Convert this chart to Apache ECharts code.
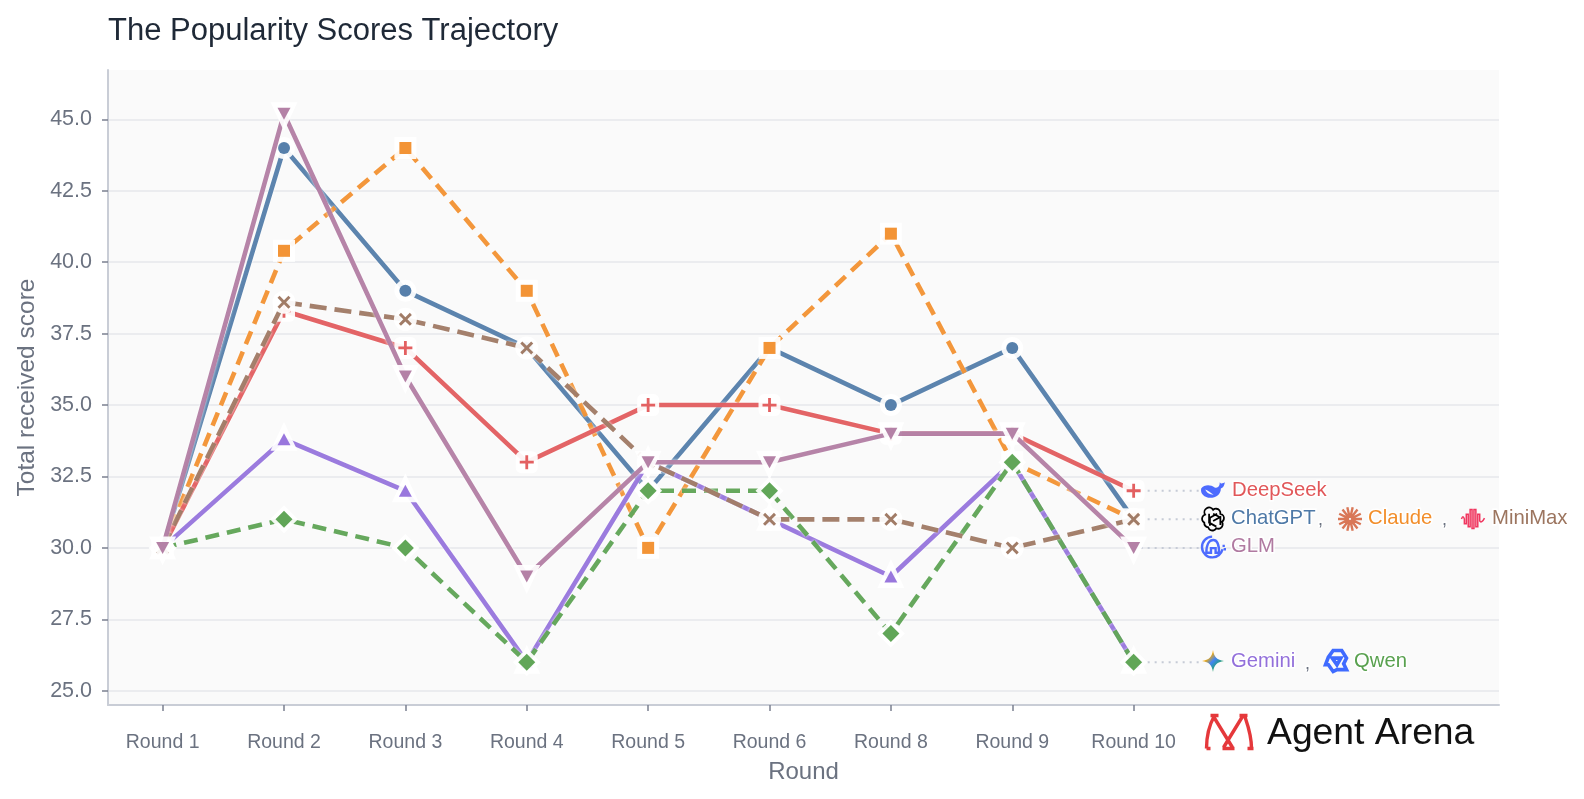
<!DOCTYPE html>
<html><head><meta charset="utf-8">
<style>html,body{margin:0;padding:0;background:#fff}#c{width:1584px;height:799px}</style>
<script src="https://cdn.jsdelivr.net/npm/echarts@6/dist/echarts.min.js"></script>
</head><body><div id="c"></div>
<script>
const rounds = ['Round 1','Round 2','Round 3','Round 4','Round 5','Round 6','Round 8','Round 9','Round 10'];
const yTicks = [25,27.5,30,32.5,35,37.5,40,42.5,45];
const chatgpt  = [30,44,39,37,32,37,35,37,31];
const claude   = [30,40.4,44,39,30,37,41,33,31];
const deepseek = [30,38.3,37,33,35,35,34,34,32];
const gemini   = [30,33.8,32,26,33,31,29,33,26];
const qwen     = [30,31,30,26,32,32,27,33,26];
const minimax  = [30,38.6,38,37,33,31,31,30,31];
const glm      = [30,45.2,36,29,33,33,34,34,30];
const leaderValues = [32,31,30,26];

const FONT = '"Liberation Sans", Arial, sans-serif';
const PLUS = 'path://M-1.2,-6H1.2V-1.2H6V1.2H1.2V6H-1.2V1.2H-6V-1.2H-1.2Z';
const CROSS = 'path://M-5,-3.4L-3.4,-5L0,-1.6L3.4,-5L5,-3.4L1.6,0L5,3.4L3.4,5L0,1.6L-3.4,5L-5,3.4L-1.6,0Z';
const defs = [
  {name:'ChatGPT', data:chatgpt, color:'#4e79a7', symbol:'circle', size:12, halo:'circle', haloSize:22, dash:'solid'},
  {name:'Claude', data:claude, color:'#f28e2b', symbol:'rect', size:12, halo:'rect', haloSize:22, dash:[14,8]},
  {name:'DeepSeek', data:deepseek, color:'#e15759', symbol:PLUS, size:14, halo:'roundRect', haloSize:22, dash:'solid'},
  {name:'Gemini', data:gemini, color:'#9370db', symbol:'triangle', size:[13,12], halo:'triangle', haloSize:[27,29], haloOffset:[0,-3], dash:'solid'},
  {name:'Qwen', data:qwen, color:'#59a14f', symbol:'diamond', size:[17,17], halo:'diamond', haloSize:[28,28], dash:[14,8]},
  {name:'MiniMax', data:minimax, color:'#9c755f', symbol:CROSS, size:13, halo:'circle', haloSize:23, dash:[17,8]},
  {name:'GLM', data:glm, color:'#b07aa1', symbol:'triangle', rotate:180, size:[13,12], halo:'triangle', haloSize:[27,29], haloOffset:[0,3], dash:'solid'}
];
const series = leaderValues.map(v => ({
  type:'line', silent:true, symbol:'none', z:1,
  data:[[8,v],[8.56,v]],
  lineStyle:{color:'#c6cbd6', width:2, type:[2,5]}
}));
defs.forEach((d,i) => {
  const pts = d.data.map((v,k)=>[k,v]);
  series.push({
    name:d.name, type:'line', z:2+2*i, silent:true, data:pts,
    symbol:d.halo, symbolSize:d.haloSize, symbolRotate:d.rotate||0, symbolOffset:d.haloOffset||[0,0],
    showAllSymbol:true,
    lineStyle:{color:d.color, width:4.6, type:d.dash, opacity:.92,
      shadowColor:'rgba(255,255,255,.95)', shadowBlur:3},
    itemStyle:{color:'rgba(255,255,255,.93)', borderWidth:0}
  });
  series.push({
    type:'scatter', z:3+2*i, silent:true, data:pts,
    symbol:d.symbol, symbolSize:d.size, symbolRotate:d.rotate||0,
    itemStyle:{color:d.color, opacity:.95}
  });
});

function txt(x,y,t,color,size){
  return {type:'text', z:50, x, y, style:{text:t, fill:color, font:`${size||20.3}px ${FONT}`,
    textVerticalAlign:'middle', stroke:'rgba(255,255,255,.9)', lineWidth:3}};
}
function icon(cx,cy,w,h,d,style){
  return {type:'path', shape:{pathData:d, x:cx-w/2, y:cy-h/2, width:w, height:h}, style};
}
function rays(n,r0,r1){ let s='';
  for(let i=0;i<n;i++){const a=i*2*Math.PI/n;
    s+=`M${(r0*Math.cos(a)).toFixed(2)},${(r0*Math.sin(a)).toFixed(2)}L${(r1*Math.cos(a)).toFixed(2)},${(r1*Math.sin(a)).toFixed(2)}`;}
  return s;}
const BLUE='#4d6bfe';
const whale='M-12,-1C-9,-5 -3,-5 1,-2C4,-1 6,-3 6,-7C7,-5 9,-6 11,-7C10,-4 10,-2 7,-1C7,5 2,8 -3,8C-9,8 -13,4 -12,-1ZM-8,0C-7,3 -4,5 0,5C-3,3 -5,1 -8,0Z';
const gptKnot='M0,-12A5.5,5.5 0 0 1 9,-7A5.5,5.5 0 0 1 11,3A5.5,5.5 0 0 1 4,11A5.5,5.5 0 0 1 -6,10A5.5,5.5 0 0 1 -11,4A5.5,5.5 0 0 1 -10,-6A5.5,5.5 0 0 1 0,-12ZM-5,-7L-5,4L4,9M5,-7L-4,-2L-4,8M8,-3L0,-7M9,7L9,-3L0,2';
const wave='M-12,0C-11,-3 -10,-3 -9,0V5H-7V-5H-5V8H-3V-10H-1V10H1V-10H3V8H5V-5H7V2C8,4 10,3 12,-1';
const gem='M0,-11C1,-4 4,-1 11,0C4,1 1,4 0,11C-1,4 -4,1 -11,0C-4,-1 -1,-4 0,-11Z';
const qw='M-3,-11H6L11,-3L8,3L11,9H1L-3,11L-8,4H-11L-8,-4ZM-4,-3H5L1,4Z';
const glmI='M0,-9A9,9 0 1 0 9,2M-5,5C-5,-3 -2,-6 1,-6C5,-6 6,-2 6,5H3V1H-1V5ZM9,-1H11M10,2H12';
const arena='M0,34C0,20 3,10 8,1M4,1H12M7,2L26,33M36,2L17,33M33,1H41M38,1C41,10 45,20 45,34M0,34H4M16,34H28M41,34H47';

series.push({
  type:'custom', coordinateSystem:'none', silent:true, z:50, data:[0],
  renderItem:()=>({type:'group', children:[
    icon(1213,490,24,17,whale,{fill:BLUE}),
    icon(1213,519,23,23,gptKnot,{fill:'none',stroke:'#000',lineWidth:1.8}),
    icon(1350,519,24,24,rays(14,1,12),{fill:'none',stroke:'#d97757',lineWidth:2.4}),
    icon(1473,519,23,21,wave,{fill:'none',stroke:'#f0365f',lineWidth:1.5}),
    icon(1214,547,24,21,glmI,{fill:'none',stroke:BLUE,lineWidth:2.4}),
    icon(1213,661,22,22,gem,{fill:{type:'linear',x:0,y:0,x2:1,y2:1,colorStops:[{offset:0,color:'#ea4335'},{offset:.3,color:'#f9ab00'},{offset:.5,color:'#4285f4'},{offset:.75,color:'#1ea362'},{offset:1,color:'#4d8cff'}]}}),
    icon(1336,661,21,21,qw,{fill:'none',stroke:'#3f6bff',lineWidth:3.6}),
    icon(1230,732,47,36,arena,{fill:'none',stroke:'#e5383b',lineWidth:3.4})
  ]})
});

const option = {
  animation:false,
  backgroundColor:'#fff',
  textStyle:{fontFamily:FONT},
  title:{text:'The Popularity Scores Trajectory', left:103, top:11,
    textStyle:{fontFamily:FONT,fontSize:31,fontWeight:'normal',color:'#1f2937'}},
  grid:{left:108, right:85, top:70, bottom:94, show:true, backgroundColor:'#fafafa', borderWidth:0},
  xAxis:{type:'value', min:-0.45, max:11.01, name:'Round', nameLocation:'middle', nameGap:55,
    nameTextStyle:{fontSize:24,color:'#6b7280',fontFamily:FONT},
    splitLine:{show:false},
    axisLine:{show:true,onZero:false,lineStyle:{color:'#c9cdd6',width:2}},
    axisTick:{show:true,customValues:rounds.map((r,i)=>i),length:6,lineStyle:{color:'#7b8090',width:1.5}},
    axisLabel:{customValues:rounds.map((r,i)=>i),formatter:v=>rounds[Math.round(v)]||'',margin:28,fontSize:19.5,color:'#6b7280',fontFamily:FONT}},
  yAxis:{type:'value', min:24.5, max:46.73, name:'Total received score', nameLocation:'middle', nameGap:68,
    nameTextStyle:{fontSize:24.5,color:'#6b7280',fontFamily:FONT},
    axisLine:{show:true,onZero:false,lineStyle:{color:'#c9cdd6',width:2}},
    axisTick:{show:true,customValues:yTicks,length:6,lineStyle:{color:'#7b8090',width:1.5}},
    splitLine:{show:true,lineStyle:{color:'#e6e7eb',width:1.5}},
    axisLabel:{customValues:yTicks,formatter:v=>v.toFixed(1),margin:16,fontSize:21.5,padding:[4,0,0,0],color:'#6b7280',fontFamily:FONT}},
  series,
  graphic:[
    txt(1232,490,'DeepSeek','#e15759'),
    txt(1231,518,'ChatGPT','#4e79a7'),
    txt(1318,520,',','#6b7280',18),
    txt(1368,518,'Claude','#f28e2b'),
    txt(1442,520,',','#6b7280',18),
    txt(1492,518,'MiniMax','#9c755f'),
    txt(1231,546,'GLM','#b07aa1'),
    txt(1231,661,'Gemini','#9370db'),
    txt(1305,664,',','#6b7280',18),
    txt(1354,661,'Qwen','#59a14f'),
    {type:'text',z:50,x:1267,y:734,style:{text:'Agent Arena',fill:'#111',font:`37.3px ${FONT}`,textVerticalAlign:'middle'}}
  ]
};
echarts.init(document.getElementById('c')).setOption(option);
</script></body></html>
